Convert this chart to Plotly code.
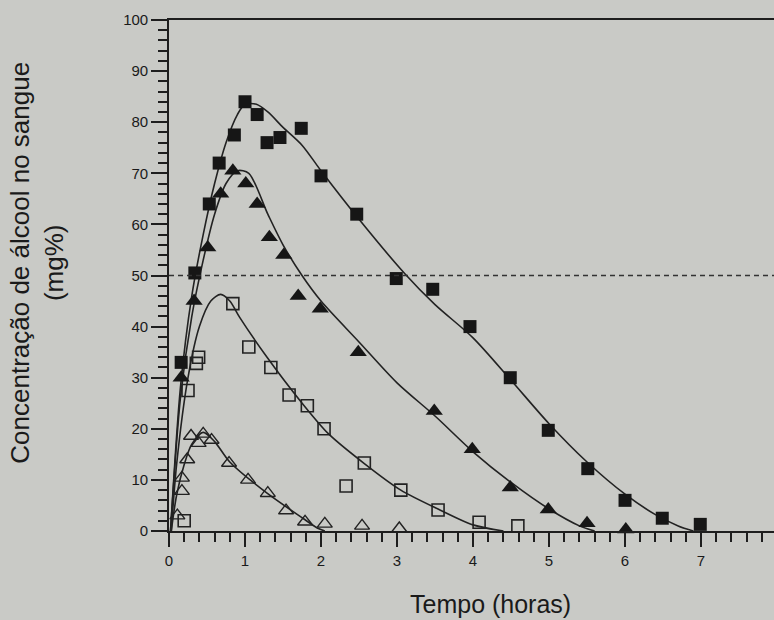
import plotly.graph_objects as go

# ---------------- data ----------------
# filled squares
sq_x = [0.16, 0.34, 0.53, 0.66, 0.86, 1.0, 1.16, 1.29, 1.46, 1.74, 2.0, 2.47, 2.99, 3.47, 3.96, 4.49, 4.99, 5.51, 6.0, 6.49, 6.99]
sq_y = [33, 50.5, 64, 72, 77.5, 84, 81.5, 76, 77, 78.8, 69.5, 62, 49.4, 47.3, 40, 30, 19.7, 12.2, 6, 2.5, 1.3]
sq_fit_x = [0.02, 0.15, 0.3, 0.45, 0.6, 0.75, 0.9, 1.0, 1.15, 1.3, 1.5, 1.75, 2.0, 2.5, 3.1, 3.5, 4.0, 4.5, 5.0, 5.5, 6.0, 6.4, 6.7, 6.9]
sq_fit_y = [0, 28, 46, 58, 68, 76, 81.5, 83.5, 83.5, 82, 79, 75.5, 70.5, 61, 50.4, 44.3, 37.8, 29.5, 21, 13.5, 7.2, 3.2, 1, 0]

# filled triangles
tr_x = [0.16, 0.33, 0.51, 0.68, 0.84, 1.01, 1.16, 1.32, 1.51, 1.70, 1.99, 2.49, 3.49, 3.99, 4.49, 4.99, 5.5, 6.01]
tr_y = [30, 45, 55.5, 66, 70.5, 68, 64, 57.5, 54, 46, 43.5, 35, 23.5, 16, 8.5, 4.2, 1.5, 0.3]
tr_fit_x = [0.02, 0.15, 0.3, 0.45, 0.6, 0.75, 0.9, 1.05, 1.3, 1.5, 1.75, 2.0, 2.5, 3.0, 3.5, 4.0, 4.5, 5.0, 5.4, 5.6]
tr_fit_y = [0, 26, 42, 53, 62, 68, 70.5, 70, 62, 56, 50, 45, 37, 29, 22.5, 15.5, 9.5, 4.3, 1, 0]

# open squares
osq_x = [0.2, 0.25, 0.36, 0.39, 0.84, 1.05, 1.34, 1.58, 1.82, 2.04, 2.33, 2.57, 3.05, 3.54, 4.08, 4.59]
osq_y = [2, 27.5, 32.8, 34, 44.5, 36, 32, 26.6, 24.5, 20, 8.8, 13.3, 8, 4.1, 1.7, 1]
osq_fit_x = [0.03, 0.1, 0.25, 0.4, 0.55, 0.68, 0.8, 0.93, 1.29, 1.72, 2.1, 2.57, 3.05, 3.54, 4.0, 4.4]
osq_fit_y = [0, 13, 30, 40, 45, 46.3, 45, 41.8, 34, 25.6, 19, 13.2, 8, 4.3, 1.2, 0]

# open triangles
otr_x = [0.11, 0.17, 0.17, 0.24, 0.29, 0.39, 0.45, 0.56, 0.79, 1.04, 1.3, 1.54, 1.79, 2.05, 2.54, 3.03]
otr_y = [3, 7.8, 10.4, 14, 18.6, 17.2, 19, 17.8, 13.3, 10, 7.4, 4, 1.8, 1.4, 1, 0.5]
otr_fit_x = [0.03, 0.1, 0.2, 0.3, 0.45, 0.6, 0.8, 1.29, 1.76, 1.95, 2.05]
otr_fit_y = [0, 7, 13, 17, 19.3, 17.5, 13.5, 7.4, 2.5, 0.6, 0]

x_ticks = [0, 1, 2, 3, 4, 5, 6, 7]
y_ticks = [0, 10, 20, 30, 40, 50, 60, 70, 80, 90, 100]
limit_level = 50

# ---------------- figure ----------------
INK = "#161616"
BG = "#c9cac6"
FONT = "Liberation Sans, Arial, sans-serif"
X_MAX = 7.96

fig = go.Figure()

for fx, fy in [(sq_fit_x, sq_fit_y), (tr_fit_x, tr_fit_y), (osq_fit_x, osq_fit_y), (otr_fit_x, otr_fit_y)]:
    fig.add_trace(go.Scatter(x=fx, y=fy, mode="lines",
                             line=dict(color="#222222", width=1.6, shape="spline", smoothing=0.8),
                             hoverinfo="skip", showlegend=False, cliponaxis=False))

fig.add_trace(go.Scatter(x=osq_x, y=osq_y, mode="markers", cliponaxis=False, showlegend=False,
                         marker=dict(symbol="square-open", size=12, color="#222222", line=dict(width=1.6))))
fig.add_trace(go.Scatter(x=otr_x, y=otr_y, mode="markers", cliponaxis=False, showlegend=False,
                         marker=dict(symbol="triangle-up-open", size=13, color="#222222", line=dict(width=1.4))))
fig.add_trace(go.Scatter(x=tr_x, y=tr_y, mode="markers", cliponaxis=False, showlegend=False,
                         marker=dict(symbol="triangle-up", size=15, color=INK, line=dict(width=0))))
fig.add_trace(go.Scatter(x=sq_x, y=sq_y, mode="markers", cliponaxis=False, showlegend=False,
                         marker=dict(symbol="square", size=13, color=INK, line=dict(width=0))))

fig.add_shape(type="line", xref="x", yref="y", x0=0, x1=X_MAX, y0=limit_level, y1=limit_level,
              line=dict(color="#333333", width=1.4, dash="5px,4px"))

fig.update_xaxes(range=[0, X_MAX], tickmode="array", tickvals=x_ticks,
                 ticktext=[str(v) for v in x_ticks],
                 showgrid=False, zeroline=False, showline=True, linecolor="#1e1e1e", linewidth=1.6,
                 mirror=True, ticks="outside", ticklen=14, tickwidth=1.6, tickcolor="#1e1e1e",
                 ticklabelstandoff=1,
                 minor=dict(dtick=0.2, ticks="outside", ticklen=9, tickwidth=1.5, tickcolor="#1e1e1e", showgrid=False),
                 tickfont=dict(family=FONT, size=15, color="#1a1a1a"))
fig.update_yaxes(range=[0, 100], tickmode="array", tickvals=y_ticks,
                 ticktext=[str(v) for v in y_ticks],
                 showgrid=False, zeroline=False, showline=True, linecolor="#1e1e1e", linewidth=1.6,
                 ticks="outside", ticklen=16, tickwidth=1.6, tickcolor="#1e1e1e",
                 minor=dict(dtick=2, ticks="outside", ticklen=9, tickwidth=1.5, tickcolor="#1e1e1e", showgrid=False),
                 tickfont=dict(family=FONT, size=15, color="#1a1a1a"))

fig.add_annotation(text="Concentração de álcool no sangue<br>(mg%)", textangle=-90,
                   xref="paper", yref="paper", x=-0.2174, y=0.526, showarrow=False,
                   xanchor="center", yanchor="middle",
                   font=dict(family=FONT, size=26, color="#1a1a1a"), align="center")
fig.add_annotation(text="Tempo (horas)", xref="paper", yref="paper", x=0.532, y=-0.143,
                   xanchor="center", yanchor="middle",
                   showarrow=False, font=dict(family=FONT, size=25, color="#1a1a1a"))

fig.update_layout(width=774, height=620, margin=dict(l=169, r=0, t=20, b=89),
                  paper_bgcolor=BG, plot_bgcolor=BG, showlegend=False)

fig.write_html("out.html", config={"displayModeBar": False},
               post_script="document.body.style.margin='0';document.body.style.background='%s';" % BG)
